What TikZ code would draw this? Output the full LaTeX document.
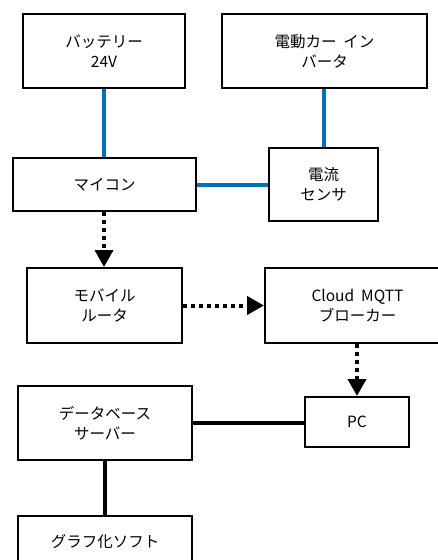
\documentclass[tikz,border=0pt]{standalone}
\usepackage{fontspec}
\setmainfont{Noto Sans CJK JP}
\usetikzlibrary{arrows.meta}
\definecolor{lineblue}{HTML}{0070C0}
\tikzset{
  box/.style={draw=black, line width=2pt, fill=white, align=center, inner sep=0pt,
              font=\fontsize{15.5}{20}\selectfont},
  blueline/.style={draw=lineblue, line width=4pt},
  blackline/.style={draw=black, line width=4pt},
  dotarrow/.style={draw=black, line width=4pt, dash pattern=on 4pt off 4pt,
                   -{Triangle[width=18pt,length=17pt]}},
}
\begin{document}
\begin{tikzpicture}[x=1pt,y=-1pt]
\clip (0,0) rectangle (438,560);
\useasboundingbox (0,0) rectangle (438,560);
\fill[white] (0,0) rectangle (438,560);
\node[box, minimum width=162pt, minimum height=74pt] (bat) at (104,51) {バッテリー\\24V};
\node[box, minimum width=205pt, minimum height=74pt] (inv) at (324.5,51) {電動カー\ \ イン\\バータ};
\node[box, minimum width=183pt, minimum height=53pt] (mcu) at (104.5,184.5) {マイコン};
\node[box, minimum width=109pt, minimum height=73pt] (sen) at (323.5,184.5) {電流\\センサ};
\node[box, minimum width=155pt, minimum height=75pt] (mob) at (104.5,305.5) {モバイル\\ルータ};
\node[box, minimum width=185pt, minimum height=75pt] (cld) at (357.5,305.5) {Cloud\ \ MQTT\\ブローカー};
\node[box, minimum width=174pt, minimum height=74pt] (db) at (105,423) {データベース\\サーバー};
\node[box, minimum width=104pt, minimum height=50pt] (pc) at (357,422) {PC};
\node[box, minimum width=174pt, minimum height=60pt] (gr) at (105,546) {};
\node[font=\fontsize{15.5}{20}\selectfont] (grt) at (105,542) {グラフ化ソフト};
% connectors
\draw[blueline] (bat.south) -- (bat.south |- mcu.north);
\draw[blueline] (inv.south -| sen.north) -- (sen.north);
\draw[blueline] (mcu.east) -- (sen.west |- mcu.east);
\draw[dotarrow] (mcu.south -| bat.south) -- (bat.south |- mob.north);
\draw[dotarrow] (mob.east) -- (cld.west |- mob.east);
\draw[dotarrow] (cld.south -| pc.north) -- (pc.north);
\draw[blackline] (db.east) -- (pc.west |- db.east);
\draw[blackline] (db.south) -- (gr.north);
\end{tikzpicture}
\end{document}
